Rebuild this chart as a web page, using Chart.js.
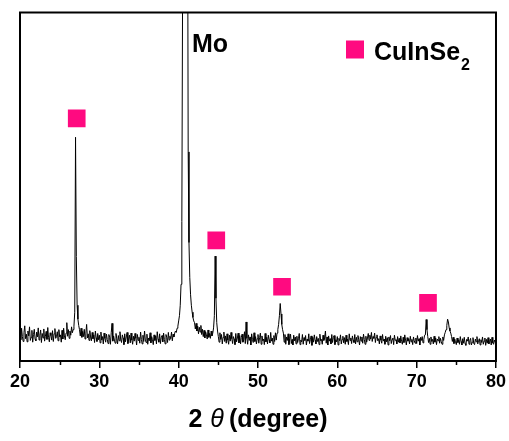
<!DOCTYPE html>
<html>
<head>
<meta charset="utf-8">
<script src="https://cdn.jsdelivr.net/npm/chart.js@4/dist/chart.umd.min.js"></script>
<style>
  html, body { margin: 0; padding: 0; background: #fff; }
  canvas { display: block; }
</style>
</head>
<body>
<canvas id="xrdChart" width="509" height="441"></canvas>
<script>
// ========================================
// DATA (2-theta scan, arbitrary intensity, 0 = axis, 100 = top of frame)
// ========================================
const twoTheta = [
  20.0, 20.1, 20.2, 20.3, 20.4, 20.5, 20.6, 20.7, 20.8, 20.9,
  21.0, 21.1, 21.2, 21.3, 21.4, 21.5, 21.6, 21.7, 21.8, 21.9,
  22.0, 22.1, 22.2, 22.3, 22.4, 22.5, 22.6, 22.7, 22.8, 22.9,
  23.0, 23.1, 23.2, 23.3, 23.4, 23.5, 23.6, 23.7, 23.8, 23.9,
  24.0, 24.1, 24.2, 24.3, 24.4, 24.5, 24.6, 24.7, 24.8, 24.9,
  25.0, 25.1, 25.2, 25.3, 25.4, 25.5, 25.6, 25.7, 25.8, 25.9,
  26.0, 26.1, 26.2, 26.3, 26.4, 26.5, 26.6, 26.7, 26.8, 26.9,
  27.0, 27.1, 27.2, 27.3, 27.4, 27.5, 27.6, 27.7, 27.8, 27.9,
  28.0, 28.1, 28.2, 28.3, 28.4, 28.5, 28.6, 28.7, 28.8, 28.9,
  29.0, 29.1, 29.2, 29.3, 29.4, 29.5, 29.6, 29.7, 29.8, 29.9,
  30.0, 30.1, 30.2, 30.3, 30.4, 30.5, 30.6, 30.7, 30.8, 30.9,
  31.0, 31.1, 31.2, 31.3, 31.4, 31.5, 31.6, 31.7, 31.8, 31.9,
  32.0, 32.1, 32.2, 32.3, 32.4, 32.5, 32.6, 32.7, 32.8, 32.9,
  33.0, 33.1, 33.2, 33.3, 33.4, 33.5, 33.6, 33.7, 33.8, 33.9,
  34.0, 34.1, 34.2, 34.3, 34.4, 34.5, 34.6, 34.7, 34.8, 34.9,
  35.0, 35.1, 35.2, 35.3, 35.4, 35.5, 35.6, 35.7, 35.8, 35.9,
  36.0, 36.1, 36.2, 36.3, 36.4, 36.5, 36.6, 36.7, 36.8, 36.9,
  37.0, 37.1, 37.2, 37.3, 37.4, 37.5, 37.6, 37.7, 37.8, 37.9,
  38.0, 38.1, 38.2, 38.3, 38.4, 38.5, 38.6, 38.7, 38.8, 38.9,
  39.0, 39.1, 39.2, 39.3, 39.4, 39.5, 39.6, 39.7, 39.8, 39.9,
  40.0, 40.1, 40.2, 40.3, 40.4, 40.5, 40.6, 40.7, 40.8, 40.9,
  41.0, 41.1, 41.2, 41.3, 41.4, 41.5, 41.6, 41.7, 41.8, 41.9,
  42.0, 42.1, 42.2, 42.3, 42.4, 42.5, 42.6, 42.7, 42.8, 42.9,
  43.0, 43.1, 43.2, 43.3, 43.4, 43.5, 43.6, 43.7, 43.8, 43.9,
  44.0, 44.1, 44.2, 44.3, 44.4, 44.5, 44.6, 44.7, 44.8, 44.9,
  45.0, 45.1, 45.2, 45.3, 45.4, 45.5, 45.6, 45.7, 45.8, 45.9,
  46.0, 46.1, 46.2, 46.3, 46.4, 46.5, 46.6, 46.7, 46.8, 46.9,
  47.0, 47.1, 47.2, 47.3, 47.4, 47.5, 47.6, 47.7, 47.8, 47.9,
  48.0, 48.1, 48.2, 48.3, 48.4, 48.5, 48.6, 48.7, 48.8, 48.9,
  49.0, 49.1, 49.2, 49.3, 49.4, 49.5, 49.6, 49.7, 49.8, 49.9,
  50.0, 50.1, 50.2, 50.3, 50.4, 50.5, 50.6, 50.7, 50.8, 50.9,
  51.0, 51.1, 51.2, 51.3, 51.4, 51.5, 51.6, 51.7, 51.8, 51.9,
  52.0, 52.1, 52.2, 52.3, 52.4, 52.5, 52.6, 52.7, 52.8, 52.9,
  53.0, 53.1, 53.2, 53.3, 53.4, 53.5, 53.6, 53.7, 53.8, 53.9,
  54.0, 54.1, 54.2, 54.3, 54.4, 54.5, 54.6, 54.7, 54.8, 54.9,
  55.0, 55.1, 55.2, 55.3, 55.4, 55.5, 55.6, 55.7, 55.8, 55.9,
  56.0, 56.1, 56.2, 56.3, 56.4, 56.5, 56.6, 56.7, 56.8, 56.9,
  57.0, 57.1, 57.2, 57.3, 57.4, 57.5, 57.6, 57.7, 57.8, 57.9,
  58.0, 58.1, 58.2, 58.3, 58.4, 58.5, 58.6, 58.7, 58.8, 58.9,
  59.0, 59.1, 59.2, 59.3, 59.4, 59.5, 59.6, 59.7, 59.8, 59.9,
  60.0, 60.1, 60.2, 60.3, 60.4, 60.5, 60.6, 60.7, 60.8, 60.9,
  61.0, 61.1, 61.2, 61.3, 61.4, 61.5, 61.6, 61.7, 61.8, 61.9,
  62.0, 62.1, 62.2, 62.3, 62.4, 62.5, 62.6, 62.7, 62.8, 62.9,
  63.0, 63.1, 63.2, 63.3, 63.4, 63.5, 63.6, 63.7, 63.8, 63.9,
  64.0, 64.1, 64.2, 64.3, 64.4, 64.5, 64.6, 64.7, 64.8, 64.9,
  65.0, 65.1, 65.2, 65.3, 65.4, 65.5, 65.6, 65.7, 65.8, 65.9,
  66.0, 66.1, 66.2, 66.3, 66.4, 66.5, 66.6, 66.7, 66.8, 66.9,
  67.0, 67.1, 67.2, 67.3, 67.4, 67.5, 67.6, 67.7, 67.8, 67.9,
  68.0, 68.1, 68.2, 68.3, 68.4, 68.5, 68.6, 68.7, 68.8, 68.9,
  69.0, 69.1, 69.2, 69.3, 69.4, 69.5, 69.6, 69.7, 69.8, 69.9,
  70.0, 70.1, 70.2, 70.3, 70.4, 70.5, 70.6, 70.7, 70.8, 70.9,
  71.0, 71.1, 71.2, 71.3, 71.4, 71.5, 71.6, 71.7, 71.8, 71.9,
  72.0, 72.1, 72.2, 72.3, 72.4, 72.5, 72.6, 72.7, 72.8, 72.9,
  73.0, 73.1, 73.2, 73.3, 73.4, 73.5, 73.6, 73.7, 73.8, 73.9,
  74.0, 74.1, 74.2, 74.3, 74.4, 74.5, 74.6, 74.7, 74.8, 74.9,
  75.0, 75.1, 75.2, 75.3, 75.4, 75.5, 75.6, 75.7, 75.8, 75.9,
  76.0, 76.1, 76.2, 76.3, 76.4, 76.5, 76.6, 76.7, 76.8, 76.9,
  77.0, 77.1, 77.2, 77.3, 77.4, 77.5, 77.6, 77.7, 77.8, 77.9,
  78.0, 78.1, 78.2, 78.3, 78.4, 78.5, 78.6, 78.7, 78.8, 78.9,
  79.0, 79.1, 79.2, 79.3, 79.4, 79.5, 79.6, 79.7, 79.8, 79.9,
  80.0
];

const intensity = [
  8.9, 6.1, 9.4, 7.0, 5.6, 8.2, 10.1, 6.4, 7.7, 5.5,
  8.6, 7.2, 9.8, 5.9, 6.8, 8.8, 5.4, 7.6, 9.1, 6.3,
  5.8, 8.3, 6.9, 9.5, 6.0, 7.4, 8.9, 5.3, 7.9, 6.6,
  9.2, 5.7, 7.1, 8.5, 6.2, 9.6, 6.7, 5.5, 8.1, 7.3,
  6.0, 8.7, 5.6, 7.8, 9.3, 6.5, 7.0, 8.4, 5.8, 9.0,
  6.9, 7.5, 5.4, 8.8, 6.3, 9.4, 7.2, 6.1, 8.0, 11.0,
  7.1, 9.0, 6.5, 8.6, 7.4, 9.8, 8.1, 9.0, 10.0, 14.0,
  64.2, 30.0, 16.0, 12.0, 10.2, 9.0, 7.2, 9.4, 6.8, 8.5,
  7.0, 9.1, 6.3, 8.0, 10.5, 6.6, 7.8, 5.9, 8.7, 6.9,
  5.8, 8.2, 6.4, 7.5, 5.3, 8.6, 6.7, 5.6, 7.9, 6.1,
  7.4, 5.2, 8.3, 6.0, 7.0, 4.9, 8.0, 6.5, 5.4, 7.7,
  6.2, 5.0, 7.6, 6.8, 4.8, 8.1, 10.8, 5.7, 7.2, 6.0,
  5.1, 7.9, 6.4, 4.9, 7.3, 5.8, 8.4, 6.1, 5.3, 7.5,
  6.6, 4.7, 7.8, 5.5, 6.9, 8.2, 5.0, 6.3, 7.4, 5.2,
  8.0, 6.0, 4.8, 7.1, 5.7, 7.9, 6.5, 4.6, 7.6, 5.9,
  6.8, 5.1, 8.3, 6.2, 4.9, 7.4, 5.6, 8.6, 6.0, 5.3,
  7.7, 4.8, 6.6, 5.8, 8.1, 5.2, 7.0, 6.1, 4.7, 7.5,
  5.9, 7.2, 4.9, 8.4, 6.3, 5.4, 7.8, 5.0, 6.7, 7.3,
  5.5, 8.0, 6.2, 4.9, 7.6, 6.8, 5.3, 8.2, 6.0, 7.1,
  6.4, 8.3, 5.8, 7.7, 6.9, 8.0, 8.6, 8.2, 9.4, 10.0,
  11.5, 13.0, 16.0, 22.0, 40.0, 110.0, 300.0, 420.0, 450.0, 420.0,
  320.0, 160.0, 60.0, 34.0, 24.0, 19.0, 16.0, 14.0, 12.5, 11.5,
  11.0, 9.2, 10.8, 8.6, 10.0, 7.8, 9.7, 8.3, 10.2, 7.6,
  9.1, 7.0, 8.8, 6.6, 8.4, 7.5, 6.3, 8.9, 6.8, 7.9,
  6.5, 8.6, 7.2, 8.0, 9.5, 13.0, 30.1, 18.0, 11.0, 8.6,
  7.0, 5.4, 8.1, 6.2, 7.6, 4.9, 6.8, 8.3, 5.6, 7.2,
  5.1, 7.8, 6.0, 4.8, 7.4, 5.7, 8.2, 6.4, 5.0, 7.0,
  6.3, 4.7, 7.9, 5.5, 6.6, 8.0, 5.2, 7.3, 4.9, 6.8,
  7.7, 5.4, 6.1, 8.4, 5.0, 11.2, 6.5, 4.8, 7.5, 5.9,
  6.9, 4.6, 7.8, 6.2, 5.3, 8.1, 5.6, 7.0, 4.9, 6.4,
  7.6, 5.1, 6.7, 8.0, 4.8, 7.2, 5.8, 6.3, 4.7, 7.9,
  5.5, 6.8, 4.9, 7.4, 6.1, 5.2, 8.2, 5.7, 6.6, 4.8,
  7.3, 5.6, 8.1, 6.0, 8.0, 9.0, 10.5, 13.0, 16.5, 13.5,
  10.5, 9.0, 8.0, 5.4, 7.6, 4.8, 6.9, 5.9, 7.8, 4.7,
  6.5, 7.7, 5.0, 6.2, 4.6, 7.4, 5.8, 6.9, 4.9, 7.1,
  5.3, 6.4, 7.9, 4.7, 6.0, 5.5, 7.6, 4.8, 6.7, 5.9,
  7.3, 4.6, 6.3, 5.7, 7.8, 5.0, 6.1, 7.2, 4.5, 6.8,
  5.4, 7.5, 6.0, 4.9, 7.0, 5.6, 6.5, 4.7, 7.7, 5.8,
  6.2, 4.8, 7.4, 5.9, 6.6, 8.6, 5.1, 6.9, 4.6, 7.2,
  5.7, 6.4, 4.9, 7.6, 5.3, 6.8, 7.3, 4.7, 6.1, 5.5,
  7.0, 4.6, 6.5, 5.8, 7.5, 4.9, 6.2, 7.1, 5.2, 6.7,
  4.8, 7.4, 5.6, 6.3, 4.7, 7.8, 5.9, 6.6, 5.0, 7.2,
  6.0, 5.3, 7.6, 4.9, 6.8, 5.5, 7.3, 6.1, 4.6, 7.0,
  5.7, 6.9, 5.1, 7.7, 6.2, 4.8, 7.1, 5.4, 6.6, 7.9,
  5.9, 7.4, 6.3, 8.2, 5.6, 7.0, 6.5, 8.0, 5.3, 6.8,
  7.5, 5.8, 6.4, 4.9, 7.2, 6.0, 5.1, 7.6, 5.7, 6.3,
  4.8, 7.1, 5.5, 6.7, 4.6, 6.9, 5.8, 7.3, 5.0, 6.2,
  6.6, 4.7, 7.4, 5.9, 6.1, 4.9, 7.0, 5.4, 6.5, 5.2,
  7.2, 5.6, 4.8, 6.8, 5.3, 7.5, 6.0, 4.6, 6.7, 5.7,
  6.4, 4.9, 7.1, 5.5, 6.2, 4.7, 6.9, 5.8, 5.1, 6.6,
  5.0, 7.3, 5.7, 6.4, 4.6, 6.8, 5.9, 7.0, 5.2, 6.1,
  7.4, 7.5, 11.9, 9.0, 7.0, 5.3, 6.5, 4.8, 6.9, 5.6,
  6.2, 4.9, 7.1, 5.4, 6.6, 4.7, 6.3, 5.8, 7.0, 5.1,
  6.5, 5.6, 4.8, 6.9, 5.9, 7.5, 8.2, 9.0, 10.2, 12.0,
  11.2, 9.5, 8.6, 8.0, 7.0, 5.6, 6.8, 5.0, 6.3, 5.5,
  4.7, 6.6, 5.3, 6.1, 4.8, 7.0, 5.6, 4.6, 6.4, 5.1,
  6.8, 5.0, 4.5, 6.2, 5.7, 6.9, 4.8, 5.9, 6.5, 4.6,
  5.4, 6.7, 5.0, 4.7, 6.3, 5.5, 7.0, 4.9, 5.8, 6.4,
  4.6, 6.1, 5.3, 6.9, 4.8, 5.7, 6.6, 4.5, 6.2, 5.1,
  6.7, 4.9, 5.6, 6.3, 4.6, 6.8, 5.2, 4.8, 6.0, 5.4,
  4.9
];

// CuInSe2 peak markers (square symbols above the peaks)
const markerTheta = [27.15, 44.74, 53.03, 71.43];
const markerLevel = [69.6, 34.6, 21.3, 16.7];

const xTicks = [20, 30, 40, 50, 60, 70, 80];
const minorTicks = [25, 35, 45, 55, 65, 75];

const PINK = '#ff0a80';
const FONT = 'Liberation Sans, Arial, sans-serif';

// ========================================
// DECORATION PLUGIN (frame, minor ticks, labels, legend, axis title)
// ========================================
const decor = {
    id: 'decor',
    afterDraw(chart) {
        const ctx = chart.ctx;
        const area = chart.chartArea;
        const xs = chart.scales.x;

        ctx.save();

        // frame
        ctx.strokeStyle = '#000';
        ctx.lineWidth = 2;
        ctx.strokeRect(area.left, area.top, area.right - area.left, area.bottom - area.top);

        // minor ticks
        ctx.lineWidth = 1.5;
        minorTicks.forEach(v => {
            const px = Math.round(xs.getPixelForValue(v)) + 0.5;
            ctx.beginPath();
            ctx.moveTo(px, area.bottom);
            ctx.lineTo(px, area.bottom + 4);
            ctx.stroke();
        });

        ctx.fillStyle = '#000';
        ctx.textAlign = 'left';
        ctx.textBaseline = 'alphabetic';

        // Mo label
        ctx.font = 'bold 25px ' + FONT;
        ctx.fillText('Mo', area.left + 172, area.top + 39);

        // legend
        ctx.fillStyle = PINK;
        ctx.fillRect(area.left + 326, area.top + 28, 18, 18);
        ctx.fillStyle = '#000';
        ctx.font = 'bold 25px ' + FONT;
        ctx.fillText('CuInSe', area.left + 354, area.top + 47);
        const w = ctx.measureText('CuInSe').width;
        ctx.font = 'bold 16px ' + FONT;
        ctx.fillText('2', area.left + 354 + w + 1, area.top + 57);

        // x axis title: "2 θ (degree)"
        const parts = [
            { t: '2', f: 'bold 25px ' + FONT, gap: 8 },
            { t: 'θ', f: 'italic 25px ' + FONT, gap: 5 },
            { t: '(degree)', f: 'bold 25px ' + FONT, gap: 0 }
        ];
        let total = 0;
        parts.forEach(p => { ctx.font = p.f; p.w = ctx.measureText(p.t).width; total += p.w + p.gap; });
        let x = (area.left + area.right) / 2 - total / 2;
        const base = 427;
        parts.forEach(p => {
            ctx.font = p.f;
            ctx.fillText(p.t, x, base);
            x += p.w + p.gap;
        });

        ctx.restore();
    }
};

// ========================================
// CHART
// ========================================
new Chart(document.getElementById('xrdChart'), {
    type: 'line',
    data: {
        datasets: [
            {
                type: 'scatter',
                label: 'CuInSe2',
                data: markerTheta.map((t, i) => ({ x: t, y: markerLevel[i] })),
                pointStyle: 'rect',
                radius: 12.5,
                backgroundColor: PINK,
                borderWidth: 0,
                order: 0
            },
            {
                label: 'XRD',
                data: twoTheta.map((t, i) => ({ x: t, y: intensity[i] })),
                borderColor: '#000',
                borderWidth: 1,
                pointRadius: 0,
                tension: 0,
                fill: false,
                order: 1
            }
        ]
    },
    options: {
        responsive: false,
        animation: false,
        devicePixelRatio: 1,
        layout: {
            padding: { left: 20, right: 13, top: 9, bottom: 0 }
        },
        plugins: {
            legend: { display: false },
            tooltip: { enabled: false }
        },
        scales: {
            x: {
                type: 'linear',
                min: 20,
                max: 80,
                afterFit(scale) { scale.height = 80; },
                afterBuildTicks(scale) { scale.ticks = xTicks.map(v => ({ value: v })); },
                border: { display: false },
                grid: {
                    drawOnChartArea: false,
                    drawTicks: true,
                    tickLength: 7,
                    color: '#000',
                    lineWidth: 1.5
                },
                ticks: {
                    color: '#000',
                    maxRotation: 0,
                    padding: 3,
                    font: { family: FONT, size: 18, weight: 'bold' }
                }
            },
            y: {
                display: false,
                min: 0,
                max: 100
            }
        }
    },
    plugins: [decor]
});
</script>
</body>
</html>
